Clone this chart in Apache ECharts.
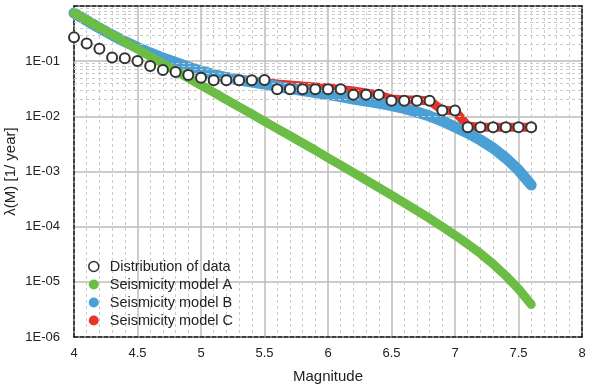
<!DOCTYPE html>
<html>
<head>
<meta charset="utf-8">
<script src="https://cdn.jsdelivr.net/npm/echarts@6/dist/echarts.min.js"></script>
<style>
  html, body { margin: 0; padding: 0; background: #fff; }
  #chart { width: 589px; height: 391px; }
</style>
</head>
<body>
<div id="chart"></div>
<script>
// magnitudes (0.1 step)
var mags = [4.0, 4.1, 4.2, 4.3, 4.4, 4.5, 4.6, 4.7, 4.8, 4.9,
            5.0, 5.1, 5.2, 5.3, 5.4, 5.5, 5.6, 5.7, 5.8, 5.9,
            6.0, 6.1, 6.2, 6.3, 6.4, 6.5, 6.6, 6.7, 6.8, 6.9,
            7.0, 7.1, 7.2, 7.3, 7.4, 7.5, 7.6];

// distribution of data (open circles)
var dataRate = [0.27, 0.21, 0.168, 0.117, 0.113, 0.1007, 0.0817, 0.0692, 0.0637, 0.0561,
                0.0501, 0.045, 0.045, 0.045, 0.045, 0.0455, 0.031, 0.031, 0.031, 0.031,
                0.031, 0.031, 0.0245, 0.0245, 0.0245, 0.0191, 0.0191, 0.0191, 0.0191, 0.0127,
                0.0127, 0.00633, 0.00633, 0.00633, 0.00633, 0.00633, 0.00633];

// seismicity model A (green)
var modelA = [0.746, 0.552, 0.408, 0.302, 0.223, 0.165, 0.122, 0.0905, 0.0670, 0.0495,
              0.0366, 0.0271, 0.0200, 0.0148, 0.0110, 0.0081, 0.0060, 0.00444, 0.00329, 0.00243,
              0.00176, 0.00130, 0.00095, 0.000695, 0.000508, 0.000372, 0.000269, 0.000195, 0.000141, 0.0000993,
              0.0000701, 0.0000484, 0.0000327, 0.0000210, 0.0000129, 0.00000743, 0.00000389];

// seismicity model B (blue)
var modelB = [0.746, 0.546, 0.399, 0.298, 0.227, 0.177, 0.141, 0.114, 0.0946, 0.0784,
              0.0664, 0.0573, 0.0506, 0.0455, 0.0419, 0.0386, 0.0348, 0.0319, 0.0294, 0.0270,
              0.0249, 0.0229, 0.0206, 0.0190, 0.0174, 0.0157, 0.0139, 0.0120, 0.0101, 0.00822,
              0.00640, 0.00498, 0.00372, 0.00267, 0.00175, 0.00106, 0.000569];

// seismicity model C (red)
var modelC = [0.746, 0.546, 0.399, 0.298, 0.227, 0.177, 0.141, 0.114, 0.0946, 0.0784,
              0.0664, 0.0573, 0.0506, 0.0455, 0.0419, 0.0410, 0.0386, 0.0370, 0.0355, 0.0340,
              0.0326, 0.0306, 0.0288, 0.0265, 0.0243, 0.0206, 0.0198, 0.0198, 0.0190, 0.0130,
              0.0125, 0.00668, 0.00633, 0.00633, 0.00633, 0.00633, 0.00633];

var seriesNames = ['Distribution of data', 'Seismicity model A', 'Seismicity model B', 'Seismicity model C'];
var yTickLabels = ['1E-06', '1E-05', '1E-04', '1E-03', '1E-02', '1E-01', ''];
var minorSteps = [2, 3, 4, 5, 6, 7, 8, 9];
var decades = [-6, -5, -4, -3, -2, -1];

var GREEN = '#6cbd45', BLUE = '#4a9fd4', RED = '#e8352c';
var FONT = 'Liberation Sans, Arial, Helvetica, sans-serif';

function pairs(vals) {
    return mags.map(function (m, i) { return [m, vals[i]]; });
}

// dashed minor grid at 2..9 x 10^n
var minorLines = [];
decades.forEach(function (d) {
    minorSteps.forEach(function (k) {
        minorLines.push({ yAxis: k * Math.pow(10, d) });
    });
});

var border = { color: '#111', width: 1.5, type: [4, 2] };

var option = {
    animation: false,
    backgroundColor: '#fff',
    textStyle: { fontFamily: FONT },
    grid: { left: 74, right: 7, top: 6, bottom: 54, containLabel: false, outerBoundsMode: 'none' },
    legend: {
        orient: 'vertical',
        left: 88,
        top: 259,
        padding: 0,
        itemGap: 3,
        itemWidth: 10,
        itemHeight: 10,
        itemTextGap: 12,
        textStyle: { fontSize: 14.5, color: '#222', fontFamily: FONT, padding: [0, 0, 0, 6] },
        data: [
            { name: seriesNames[0], icon: 'circle', itemStyle: { color: '#fff', borderColor: '#333', borderWidth: 1.5, opacity: 1 } },
            { name: seriesNames[1], icon: 'circle', itemStyle: { color: GREEN } },
            { name: seriesNames[2], icon: 'circle', itemStyle: { color: BLUE } },
            { name: seriesNames[3], icon: 'circle', itemStyle: { color: RED } }
        ]
    },
    xAxis: [{
        type: 'value',
        min: 4,
        max: 8,
        interval: 0.5,
        name: 'Magnitude',
        nameLocation: 'middle',
        nameGap: 32,
        nameTextStyle: { fontSize: 15, color: '#222' },
        axisLine: { show: true, lineStyle: border },
        axisTick: { show: false },
        axisLabel: { fontSize: 13, color: '#222', margin: 10 },
        splitLine: { show: true, lineStyle: { color: '#bdbdbd', width: 1.5 } },
        minorTick: { show: false, splitNumber: 5 },
        minorSplitLine: { show: true, lineStyle: { color: '#cacaca', width: 1, type: [3, 3] } }
    }, {
        type: 'value',
        position: 'top',
        min: 4,
        max: 8,
        axisLine: { show: true, lineStyle: border },
        axisTick: { show: false },
        axisLabel: { show: false },
        splitLine: { show: false }
    }],
    yAxis: [{
        type: 'log',
        logBase: 10,
        min: 1e-6,
        max: 1,
        splitNumber: 6,
        name: 'λ(M) [1/ year]',
        nameLocation: 'middle',
        nameGap: 56,
        nameMoveOverlap: false,
        nameTextStyle: { fontSize: 15, color: '#222' },
        axisLine: { show: true, lineStyle: border },
        axisTick: { show: false },
        axisLabel: {
            fontSize: 13,
            color: '#222',
            margin: 14,
            formatter: function (v) {
                return yTickLabels[Math.round(Math.log10(v)) + 6];
            }
        },
        splitLine: { show: true, lineStyle: { color: '#bdbdbd', width: 1.5 } }
    }, {
        type: 'log',
        logBase: 10,
        position: 'right',
        min: 1e-6,
        max: 1,
        axisLine: { show: true, lineStyle: border },
        axisTick: { show: false },
        axisLabel: { show: false },
        splitLine: { show: false }
    }],
    series: [
        {
            // carrier for the dashed minor log grid
            type: 'line',
            data: [],
            z: 0,
            silent: true,
            markLine: {
                silent: true,
                symbol: 'none',
                label: { show: false },
                lineStyle: { color: '#cacaca', width: 1, type: [3, 3] },
                data: minorLines
            }
        },
        {
            name: seriesNames[3],
            type: 'line',
            data: pairs(modelC),
            showSymbol: false,
            z: 3,
            lineStyle: { color: RED, width: 9, cap: 'round', join: 'round' },
            itemStyle: { color: RED }
        },
        {
            name: seriesNames[2],
            type: 'line',
            data: pairs(modelB),
            showSymbol: false,
            z: 4,
            lineStyle: { color: BLUE, width: 11, cap: 'round', join: 'round' },
            itemStyle: { color: BLUE }
        },
        {
            name: seriesNames[1],
            type: 'line',
            data: pairs(modelA),
            showSymbol: false,
            z: 5,
            lineStyle: { color: GREEN, width: 9, cap: 'round', join: 'round' },
            itemStyle: { color: GREEN }
        },
        {
            name: seriesNames[0],
            type: 'scatter',
            data: pairs(dataRate),
            symbol: 'circle',
            symbolSize: 10,
            z: 6,
            itemStyle: { color: '#fff', borderColor: '#333', borderWidth: 2, opacity: 1 }
        }
    ]
};

var myChart = echarts.init(document.getElementById('chart'));
myChart.setOption(option);
</script>
</body>
</html>
